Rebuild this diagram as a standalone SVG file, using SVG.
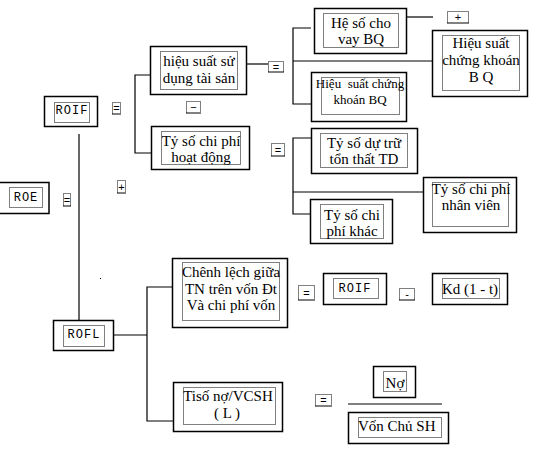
<svg xmlns="http://www.w3.org/2000/svg" width="538" height="450" viewBox="0 0 538 450">
<style>
.b{fill:#fff;stroke:#000;stroke-width:1.5}
.d{fill:none;stroke:#000;stroke-width:1;stroke-dasharray:1,1}
.c{fill:none;stroke:#000;stroke-width:1.2}
.t{font-family:"Liberation Serif","Times New Roman",serif;font-size:15px;fill:#000;text-anchor:middle}
.s{font-size:13px}
.m{font-family:"Liberation Mono","Courier New",monospace;font-size:12px;fill:#000;text-anchor:middle;letter-spacing:1px}
.o{font-family:"Liberation Sans",Arial,sans-serif;font-size:11px;fill:#000;text-anchor:middle}
</style>
<rect width="538" height="450" fill="#fff"/>
<g id="connectors">
<path class="c" d="M79 134V327"/>
<path class="c" d="M150 75H135V153H151"/>
<path class="c" d="M247 64H268"/>
<path class="c" d="M311 28H293V104H311M293 61H432"/>
<path class="c" d="M407 17H433"/>
<path class="c" d="M311 138H293V214H310M293 192H423"/>
<path class="c" d="M113 335H147M172 287H147V421H173"/>
<path class="c" d="M348 404H442"/>
<rect x="100" y="278" width="1" height="1" fill="#000"/>
</g>
<g id="ops">
<g id="op-eq-roif"><rect class="d" x="112.5" y="102.5" width="8" height="12"/><path class="d" d="M112.5 113.5H120.5"/><text class="o" x="116.5" y="112">=</text></g>
<g id="op-eq-roe"><rect class="d" x="63.5" y="193.5" width="7" height="13"/><path class="d" d="M63.5 205.5H70.5"/><text class="o" x="67" y="204">=</text></g>
<g id="op-plus"><rect class="d" x="117.5" y="180.5" width="8" height="13"/><path class="d" d="M117.5 192.5H125.5"/><text class="o" x="121.5" y="191">+</text></g>
<g id="op-minus"><rect class="d" x="186.5" y="101.5" width="14" height="12"/><path class="d" d="M186.5 112.5H200.5"/><text class="o" x="193.5" y="111">−</text></g>
<g id="op-eq-hs"><rect class="d" x="268.5" y="61.5" width="15" height="11"/><path class="d" d="M268.5 71.5H283.5"/><text class="o" x="276" y="71">=</text></g>
<g id="op-plus2"><rect class="d" x="447.5" y="11.5" width="21" height="12"/><path class="d" d="M447.5 22.5H468.5"/><text class="o" x="458" y="21">+</text></g>
<g id="op-eq-ts"><rect class="d" x="271.5" y="143.5" width="13" height="13"/><path class="d" d="M271.5 155.5H284.5"/><text class="o" x="278" y="154">=</text></g>
<g id="op-eq-cl"><rect class="d" x="298.5" y="285.5" width="16" height="15"/><path class="d" d="M298.5 299.5H314.5"/><text class="o" x="306.5" y="297">=</text></g>
<g id="op-minus2"><rect class="d" x="399.5" y="288.5" width="15" height="12"/><path class="d" d="M399.5 299.5H414.5"/><text class="o" x="407" y="298">-</text></g>
<g id="op-eq-l"><rect class="d" x="315.5" y="394.5" width="16" height="12"/><path class="d" d="M315.5 405.5H331.5"/><text class="o" x="323.5" y="404">=</text></g>
</g>
<g id="roif"><rect class="b" x="44.5" y="96.5" width="53" height="30"/><rect class="d" x="54.5" y="102.5" width="35" height="20"/><text class="m" x="72" y="114">ROIF</text></g>
<g id="roe"><rect class="b" x="-1" y="182.5" width="50" height="31"/><rect class="d" x="9.5" y="187.5" width="33" height="20"/><text class="m" x="26" y="201">ROE</text></g>
<g id="rofl"><rect class="b" x="53.5" y="320.5" width="60" height="30"/><rect class="d" x="63.5" y="325.5" width="41" height="21"/><text class="m" x="84" y="338">ROFL</text></g>
<g id="hieu-suat-su-dung"><rect class="b" x="150.5" y="46.5" width="96" height="48"/><rect class="d" x="160.5" y="51.5" width="77" height="38"/><text class="t" x="199" y="66">hiệu suất sử</text><text class="t" x="199" y="83">dụng tài sản</text></g>
<g id="ty-so-chi-phi-hd"><rect class="b" x="151.5" y="126.5" width="98" height="43"/><rect class="d" x="161.5" y="131.5" width="79" height="33"/><text class="t" x="201" y="146">Tỷ số chi phí</text><text class="t" x="201" y="162">hoạt động</text></g>
<g id="he-so-cho-vay"><rect class="b" x="314.5" y="8.5" width="92" height="45"/><rect class="d" x="323.5" y="13.5" width="75" height="34"/><text class="t" x="361" y="28">Hệ số cho</text><text class="t" x="361" y="44">vay BQ</text></g>
<g id="hieu-suat-ck-big"><rect class="b" x="432.5" y="30.5" width="95" height="66"/><rect class="d" x="442.5" y="35.5" width="77" height="55"/><text class="t" x="481" y="48">Hiệu suất</text><text class="t" x="481" y="65">chứng khoán</text><text class="t" x="481" y="82">B Q</text></g>
<g id="hieu-suat-ck-small"><rect class="b" x="311.5" y="72.5" width="95" height="49"/><rect class="d" x="321.5" y="77.5" width="78" height="37"/><text class="t s" x="360" y="88" xml:space="preserve">Hiệu  suất chứng</text><text class="t s" x="360" y="104">khoán BQ</text></g>
<g id="ty-so-du-tru"><rect class="b" x="311.5" y="128.5" width="106" height="45"/><rect class="d" x="320.5" y="133.5" width="87" height="34"/><text class="t" x="364" y="148">Tỷ số dự trữ</text><text class="t" x="364" y="164">tổn thất TD</text></g>
<g id="ty-so-nhan-vien"><rect class="b" x="423.5" y="177.5" width="93" height="55"/><rect class="d" x="432.5" y="182.5" width="76" height="44"/><text class="t" x="471" y="194">Tỷ số chi phí</text><text class="t" x="471" y="210">nhân viên</text></g>
<g id="ty-so-chi-phi-khac"><rect class="b" x="310.5" y="199.5" width="82" height="44"/><rect class="d" x="320.5" y="204.5" width="63" height="34"/><text class="t" x="352" y="220">Tỷ số chi</text><text class="t" x="352" y="236">phí khác</text></g>
<g id="chenh-lech"><rect class="b" x="172.5" y="258.5" width="115" height="69"/><rect class="d" x="182.5" y="262.5" width="97" height="58"/><text class="t" x="231" y="277">Chênh lệch giữa</text><text class="t" x="231" y="294">TN trên vốn Đt</text><text class="t" x="231" y="310">Và chi phí vốn</text></g>
<g id="ty-so-no"><rect class="b" x="173.5" y="382.5" width="109" height="49"/><rect class="d" x="183.5" y="387.5" width="92" height="37"/><text class="t" x="228" y="401">Tisố nợ/VCSH</text><text class="t" x="227" y="418" xml:space="preserve">( L )</text></g>
<g id="roif2"><rect class="b" x="323.5" y="273.5" width="63" height="31"/><rect class="d" x="333.5" y="278.5" width="45" height="20"/><text class="m" x="355" y="292">ROIF</text></g>
<g id="kd"><rect class="b" x="432.5" y="273.5" width="75" height="31"/><rect class="d" x="442.5" y="278.5" width="57" height="20"/><text class="t" x="470" y="294">Kd (1 - t)</text></g>
<g id="no"><rect class="b" x="373.5" y="366.5" width="42" height="31"/><rect class="d" x="383.5" y="371.5" width="23" height="20"/><text class="t" x="395" y="388">Nợ</text></g>
<g id="von-chu-sh"><rect class="b" x="348.5" y="412.5" width="100" height="31"/><rect class="d" x="358.5" y="417.5" width="83" height="20"/><text class="t" x="358" y="431" style="text-anchor:start">Vốn Chủ SH</text></g>
</svg>
